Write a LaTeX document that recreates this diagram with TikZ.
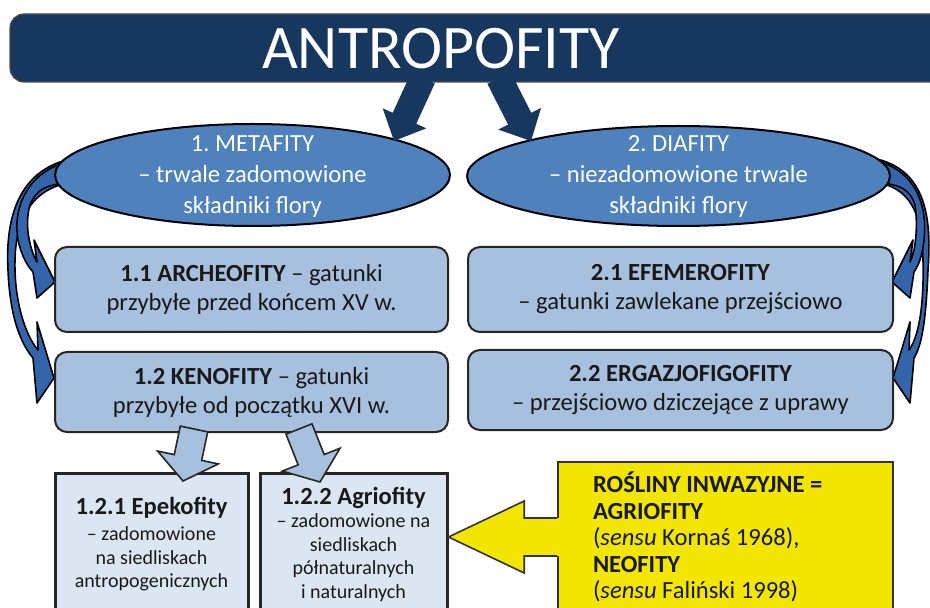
\documentclass[tikz,border=0pt]{standalone}
\usepackage{fontspec}
\setmainfont{Carlito}
\usetikzlibrary{calc}

\definecolor{navy}{HTML}{17375E}
\definecolor{midblue}{HTML}{4F81BD}
\definecolor{boxblue}{HTML}{A7C0DE}
\definecolor{paleblue}{HTML}{DCE6F2}
\definecolor{arcblue}{HTML}{3465AA}
\definecolor{callyellow}{HTML}{F2E600}

\frenchspacing

% straight block arrow: style, from, to, half shaft, half head, head length
\newcommand{\blockarrow}[6]{%
  \coordinate (headbase) at ($(#3)!#6!(#2)$);
  \path[#1] ($(#2)!#4!90:(#3)$) -- ($(headbase)!#4!90:(#3)$) -- ($(headbase)!#5!90:(#3)$) -- (#3)
    -- ($(headbase)!#5!-90:(#3)$) -- ($(headbase)!#4!-90:(#3)$) -- ($(#2)!#4!-90:(#3)$) -- cycle;}

\tikzset{
  groupshape/.style={fill=midblue, draw=black, line width=1pt},
  grouptext/.style={text=white, align=center, font=\fontsize{12.3}{15.5}\selectfont},
  kindbox/.style={rectangle, rounded corners=6pt, draw=black!85, line width=1pt, fill=boxblue,
    align=center, text=black!90},
  subbox/.style={rectangle, draw=black!85, line width=1.5pt, fill=paleblue, align=center,
    text=black!90, inner sep=0pt, font=\fontsize{10}{11.75}\selectfont},
  subhead/.style={font=\fontsize{12.3}{14}\selectfont\bfseries},
  callbox/.style={rectangle, draw=black!80, line width=0.8pt, fill=callyellow, align=flush left,
    text width=132.5pt, inner xsep=17.5pt, minimum height=75pt, text=black!90,
    font=\fontsize{12.3}{13.25}\selectfont},
  bentarrow/.style={fill=arcblue, draw=black, line width=0.8pt, line join=round},
  navyarrow/.style={fill=navy},
  lightarrow/.style={fill=boxblue, draw=black!85, line width=0.8pt},
}

\begin{document}
\begin{tikzpicture}[x=0.5pt, y=-0.5pt, font=\fontsize{12.3}{14.5}\selectfont]
  \clip (0,0) rectangle (930,608);

  % title bar
  \fill[navy, draw=black!70, line width=0.6pt, rounded corners=7pt] (10,14) rectangle (960,82);
  \node[text=white, font=\fontsize{31}{31}\selectfont] (title) at (441,49) {ANTROPOFITY};

  % bent arrows, left side
  \filldraw[bentarrow] (75,158) .. controls (20,168) and (5,215) .. (8,270) .. controls (10,320) and (22,345) .. (33,358)
    -- (37,403) -- (54,378) -- (37,322) -- (38,350) .. controls (25,335) and (14,300) .. (15,260)
    .. controls (16,215) and (35,186) .. (75,182) -- cycle;
  \filldraw[bentarrow] (75,160) .. controls (30,168) and (12,205) .. (18,240) .. controls (22,258) and (28,266) .. (33,272)
    -- (37,298) -- (55,282) -- (34,240) -- (37,262) .. controls (30,250) and (24,225) .. (30,205)
    .. controls (36,190) and (45,184) .. (75,182) -- cycle;
  % bent arrows, right side
  \filldraw[bentarrow] (872,158) .. controls (925,168) and (932,215) .. (928,270) .. controls (926,320) and (922,345) .. (914,358)
    -- (910,403) -- (893,378) -- (910,322) -- (909,350) .. controls (920,335) and (924,300) .. (923,260)
    .. controls (922,215) and (912,186) .. (872,182) -- cycle;
  \filldraw[bentarrow] (872,160) .. controls (915,168) and (928,205) .. (924,240) .. controls (922,258) and (918,266) .. (914,272)
    -- (910,298) -- (892,282) -- (913,240) -- (910,262) .. controls (916,250) and (918,225) .. (915,205)
    .. controls (910,190) and (902,184) .. (872,182) -- cycle;

  % main groups
  \draw[groupshape] (252.5,175) ellipse [x radius=197.5, y radius=51];
  \node[grouptext] (meta) at (252.5,177) {1. METAFITY\\– trwale zadomowione\\składniki flory};
  \draw[groupshape] (678.5,176) ellipse [x radius=211.5, y radius=50];
  \node[grouptext] (dia) at (678.5,177) {2. DIAFITY\\– niezadomowione trwale\\składniki flory};

  \coordinate (t1s) at (423,78);
  \coordinate (t1e) at (394,141);
  \coordinate (t2s) at (499,78);
  \coordinate (t2e) at (531,141);
  \blockarrow{navyarrow}{t1s}{t1e}{6.5pt}{12pt}{12.5pt}
  \blockarrow{navyarrow}{t2s}{t2e}{6.5pt}{12pt}{12.5pt}

  % kinds
  \node[kindbox, minimum width=196.5pt, minimum height=42.5pt] (arch) at (251.5,289.5)
    {\textbf{1.1 ARCHEOFITY} – gatunki\\przybyłe przed końcem XV w.};
  \node[kindbox, minimum width=196.5pt, minimum height=40pt] (keno) at (251.5,392)
    {\textbf{1.2 KENOFITY} – gatunki\\przybyłe od początku XVI w.};
  \node[kindbox, minimum width=212.5pt, minimum height=42.5pt] (efem) at (680.5,289.5)
    {\textbf{2.1 EFEMEROFITY}\\– gatunki zawlekane przejściowo};
  \node[kindbox, minimum width=212.5pt, minimum height=40pt] (erga) at (680.5,390)
    {\textbf{2.2 ERGAZJOFIGOFITY}\\– przejściowo dziczejące z uprawy};

  % kenofity split
  \node[subbox, minimum width=96.5pt, minimum height=71pt] (epek) at (151.5,544)
    {{\fontsize{12.3}{14}\selectfont\bfseries 1.2.1 Epekofity}\\[1.5pt]– zadomowione\\na siedliskach\\antropogenicznych};
  \node[subbox, minimum width=93.5pt, minimum height=71pt] (agri) at (353.5,544)
    {{\fontsize{12.3}{14}\selectfont\bfseries 1.2.2 Agriofity}\\– zadomowione na\\siedliskach\\półnaturalnych\\i naturalnych};

  \coordinate (k1s) at (194,429);
  \coordinate (k1e) at (183,481);
  \coordinate (k2s) at (299,429);
  \coordinate (k2e) at (320,482);
  \blockarrow{lightarrow}{k1s}{k1e}{7pt}{15.5pt}{12pt}
  \blockarrow{lightarrow}{k2s}{k2e}{7pt}{15.5pt}{12pt}

  % invasive plants callout
  \node[callbox] (inv) at (725.5,537)
    {\textbf{ROŚLINY INWAZYJNE =}\\\textbf{AGRIOFITY}\\(\textit{sensu} Kornaś 1968),\\\textbf{NEOFITY}\\(\textit{sensu} Faliński 1998)};
  \coordinate (invtip) at (agri.east |- inv.west);
  \fill[callyellow] ($(inv.west)+(3,-19)$) -- ($(inv.west)+(-33,-19)$) -- ($(inv.west)+(-33,-36)$) -- (invtip)
    -- ($(inv.west)+(-33,36)$) -- ($(inv.west)+(-33,19)$) -- ($(inv.west)+(3,19)$) -- cycle;
  \draw[black!80, line width=0.8pt] ($(inv.west)+(0,-19)$) -- ($(inv.west)+(-33,-19)$) -- ($(inv.west)+(-33,-36)$) -- (invtip)
    -- ($(inv.west)+(-33,36)$) -- ($(inv.west)+(-33,19)$) -- ($(inv.west)+(0,19)$);
\end{tikzpicture}
\end{document}
